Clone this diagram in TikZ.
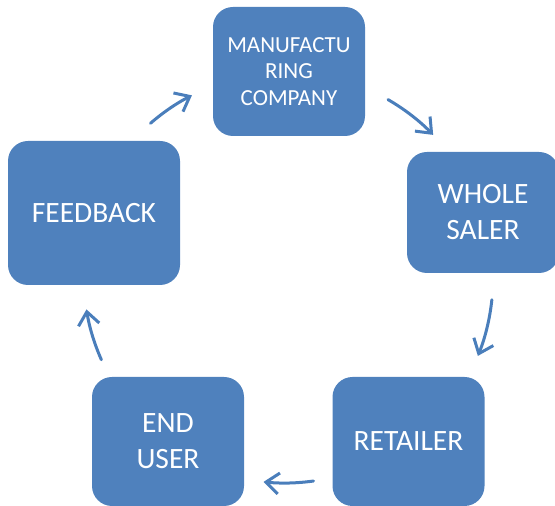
\documentclass[tikz,border=0pt]{standalone}
\usepackage{fontspec}
\setmainfont{Carlito}
\usetikzlibrary{arrows.meta}
\definecolor{boxblue}{HTML}{4F81BD}
\definecolor{arrowblue}{HTML}{4A7EBB}
\begin{document}
\begin{tikzpicture}[x=1pt,y=1pt,
  stagebox/.style={fill=boxblue, draw=none, rounded corners=20pt, inner sep=0pt,
    text=white, align=center, minimum width=152pt, minimum height=129pt,
    font=\fontsize{29.5}{36}\selectfont},
  cyclearrow/.style={draw=arrowblue, line width=3pt, line cap=round,
    -{Straight Barb[length=13pt,width=21pt,line join=miter]}}]
  \useasboundingbox (0,0) rectangle (555,506);
  \clip (0,0) rectangle (555,506);

  % the five stages of the cycle
  \node[stagebox, font=\fontsize{23}{26.5}\selectfont] (manu) at (289,434.5)
    {MANUFACTU\\RING\\COMPANY};
  \node[stagebox, minimum height=121pt] (whole) at (483,293.5) {WHOLE\\SALER};
  \node[stagebox] (retail) at (408.5,64.5) {RETAILER};
  \node[stagebox] (enduser) at (168,64.5) {END\\USER};
  \node[stagebox, minimum width=172pt, minimum height=144pt] (feedback) at (94,293)
    {FEEDBACK};

  % circular arrows between the stages
  \coordinate (hub) at (285,228);
  \draw[cyclearrow] ([shift={(131:205pt)}]hub) arc[start angle=131, end angle=117, radius=205pt];
  \draw[cyclearrow] ([shift={(60:206pt)}]hub) arc[start angle=60, end angle=44, radius=206pt];
  \draw[cyclearrow] ([shift={(-6:208pt)}]hub) arc[start angle=-6, end angle=-22, radius=208pt];
  \draw[cyclearrow] ([shift={(-82:205pt)}]hub) arc[start angle=-82, end angle=-96, radius=205pt];
  \draw[cyclearrow] ([shift={(204:201pt)}]hub) arc[start angle=204, end angle=189, radius=201pt];
\end{tikzpicture}
\end{document}
